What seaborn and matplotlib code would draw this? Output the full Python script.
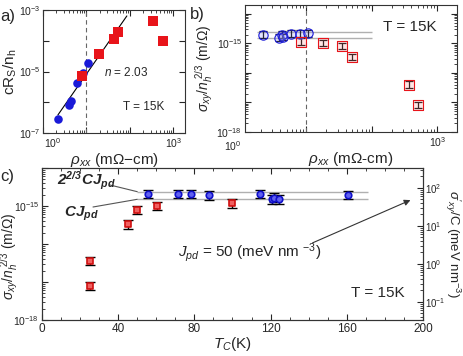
import numpy as np
import pandas as pd
import matplotlib
matplotlib.use("Agg")
import matplotlib.pyplot as plt
import matplotlib.ticker as mticker
import seaborn as sns

sns.set_style("ticks")
plt.rcParams['font.family'] = ['Liberation Sans', 'DejaVu Sans']
plt.rcParams['mathtext.fontset'] = 'custom'
plt.rcParams['mathtext.rm'] = 'Liberation Sans'
plt.rcParams['mathtext.it'] = 'Liberation Sans:italic'
plt.rcParams['mathtext.bf'] = 'Liberation Sans:bold'
plt.rcParams['xtick.direction'] = 'in'
plt.rcParams['ytick.direction'] = 'in'

# ---------------- data ----------------
# panel a
a_blue_rho = [2.24, 3.98, 4.37, 6.17, 8.51, 10.96]
a_blue_crs = [2.9e-7, 8.1e-7, 1.12e-6, 4.2e-6, 8.7e-6, 1.95e-5]
a_red_rho = [8.1, 19.5, 43.7, 53.7, 347, 562]
a_red_crs = [7.1e-6, 3.7e-5, 1.12e-4, 1.9e-4, 4.3e-4, 1.0e-4]
fit_n = 2.03
fit_log_intercept = -7.11
fit_rho_range = [2.2, 85]

# panel b
b_blue_rho = [2.2, 3.86, 4.17, 4.44, 5.9, 7.9, 10.7]
b_blue_sig = [2.0e-15, 1.55e-15, 2.0e-15, 1.62e-15, 2.14e-15, 2.14e-15, 2.19e-15]
b_red_rho = [8.3, 18.2, 35.1, 49, 372, 500]
b_red_sig = [1.15e-15, 1.02e-15, 8.1e-16, 3.5e-16, 4.0e-17, 8.1e-18]
b_err_frac = 0.3

# panel c
c_red_tc = [25, 25, 45, 50, 60.5, 99.5]
c_red_sig = [3.6e-17, 7.8e-18, 3.3e-16, 7.8e-16, 1.0e-15, 1.17e-15]
c_blue_tc = [55.5, 71.5, 78, 87.5, 114.5, 120.5, 121.8, 124.5, 160.5]
c_blue_sig = [2.05e-15, 2.05e-15, 2.05e-15, 1.9e-15, 2.05e-15, 1.5e-15, 1.66e-15, 1.5e-15, 1.95e-15]
c_err_frac = 0.3

J_pd = 50.0                      # meV nm^-3
CJ_line = 1.5e-15                # sigma/n^(2/3) corresponding to C*J_pd
conv = J_pd / CJ_line            # left units -> sigma'/C
lines_vals = [CJ_line, 2 ** (2 / 3) * CJ_line]

RED = '#e8141a'
BLUE = '#1a1ad8'
GRAY = '#b0b0b0'

fig = plt.figure(figsize=(4.63, 3.56), dpi=100)
W, H = 463.0, 356.0


def axrect(l, t, r, b):
    return [l / W, 1 - b / H, (r - l) / W, (b - t) / H]


def decade_fmt(keep):
    return mticker.FuncFormatter(
        lambda v, p: r'$10^{%d}$' % round(np.log10(v)) if round(np.log10(v)) in keep else '')


def style_log(axis, keep, minor=True):
    axis.set_major_locator(mticker.LogLocator(base=10, numticks=10))
    axis.set_major_formatter(decade_fmt(keep))
    if minor:
        axis.set_minor_locator(mticker.LogLocator(base=10, subs=np.arange(2, 10), numticks=10))
    else:
        axis.set_minor_locator(mticker.NullLocator())
    axis.set_minor_formatter(mticker.NullFormatter())


# ---------------- panel a ----------------
axa = fig.add_axes(axrect(43, 10, 185, 133))
dfa_b = pd.DataFrame({'rho': a_blue_rho, 'v': a_blue_crs})
dfa_r = pd.DataFrame({'rho': a_red_rho, 'v': a_red_crs})
axa.set_xscale('log'); axa.set_yscale('log')
sns.scatterplot(data=dfa_b, x='rho', y='v', ax=axa, color=BLUE, marker='o', s=38,
                edgecolor=BLUE, linewidth=0, zorder=3)
sns.scatterplot(data=dfa_r, x='rho', y='v', ax=axa, color=RED, marker='s', s=48,
                edgecolor=RED, linewidth=0, zorder=3)
xf = np.logspace(np.log10(fit_rho_range[0]), np.log10(fit_rho_range[1]), 50)
axa.plot(xf, 10 ** (fit_log_intercept + fit_n * np.log10(xf)), color='black', lw=0.8, zorder=2)
axa.axvline(10, color='#666666', lw=0.8, ls=(0, (4, 3)), zorder=1)
axa.set_xlim(1, 1850)
axa.set_ylim(1e-7, 1e-3)
style_log(axa.xaxis, (3,))
style_log(axa.yaxis, (-3, -5, -7), minor=False)
axa.tick_params(which='both', top=True, right=True, labelsize=7.5, pad=2)
axa.tick_params(which='major', length=4)
axa.tick_params(which='minor', length=2)
axa.set_xlabel(r'$\rho_{xx}$ (mΩ−cm)', fontsize=11, labelpad=1)
axa.set_ylabel(r'$\mathdefault{cR_S/n_h}$', fontsize=11, labelpad=0)
axa.text(0.43, 0.46, r'$n$ = 2.03', transform=axa.transAxes, fontsize=8.5)
axa.text(0.56, 0.19, 'T = 15K', transform=axa.transAxes, fontsize=8.5)
fig.text(44 / W, 1 - 143 / H, r'$10^{0}$', fontsize=7.5, ha='left', va='center')

# ---------------- panel b ----------------
axb = fig.add_axes(axrect(245, 5, 457, 132))
axb.set_xscale('log'); axb.set_yscale('log')
axb.hlines(lines_vals, 1.75, 100, color=GRAY, lw=1, zorder=1)
axb.axvline(10, color='#666666', lw=0.8, ls=(0, (4, 3)), zorder=1)
bb = np.array(b_blue_sig); br = np.array(b_red_sig)
axb.errorbar(b_blue_rho, bb, yerr=[bb * b_err_frac * 0.75, bb * b_err_frac], fmt='none',
             ecolor='black', elinewidth=0.9, capsize=3, capthick=0.9, zorder=2)
axb.errorbar(b_red_rho, br, yerr=[br * b_err_frac * 0.75, br * b_err_frac], fmt='none',
             ecolor='black', elinewidth=0.9, capsize=3, capthick=0.9, zorder=2)
dfb_b = pd.DataFrame({'rho': b_blue_rho, 'v': b_blue_sig})
dfb_r = pd.DataFrame({'rho': b_red_rho, 'v': b_red_sig})
sns.scatterplot(data=dfb_b, x='rho', y='v', ax=axb, marker='o', s=45,
                facecolor=(0.6, 0.6, 1.0, 0.25), edgecolor=BLUE, linewidth=0.8, zorder=3)
sns.scatterplot(data=dfb_r, x='rho', y='v', ax=axb, marker='s', s=45,
                facecolor=(1.0, 0.6, 0.6, 0.25), edgecolor=RED, linewidth=0.8, zorder=3)
axb.set_xlim(1.15, 2000)
axb.set_ylim(1e-18, 2e-14)
style_log(axb.xaxis, (3,))
style_log(axb.yaxis, (-15, -18))
axb.tick_params(which='both', top=True, right=True, labelsize=7.5, pad=2)
axb.tick_params(which='major', length=4)
axb.tick_params(which='minor', length=2)
axb.set_xlabel(r'$\rho_{xx}$ (mΩ-cm)', fontsize=11, labelpad=1)
axb.set_ylabel(r'$\sigma_{xy}/n_h^{\ 2/3}$ (m/Ω)', fontsize=10, labelpad=0)
axb.text(0.65, 0.83, 'T = 15K', transform=axb.transAxes, fontsize=11, va='center')
fig.text(233 / W, 1 - 146 / H, r'$10^{0}$', fontsize=7.5, ha='center', va='center')

# ---------------- panel c ----------------
axc = fig.add_axes(axrect(42, 168, 423, 320))
axc.set_yscale('log')
axc.hlines(lines_vals, 50, 171, color=GRAY, lw=1, zorder=1)
cb = np.array(c_blue_sig); cr = np.array(c_red_sig)
axc.errorbar(c_red_tc, cr, yerr=[cr * c_err_frac * 0.75, cr * c_err_frac], fmt='none',
             ecolor='black', elinewidth=1.0, capsize=3.5, capthick=1.0, zorder=2)
axc.errorbar(c_blue_tc, cb, yerr=[cb * c_err_frac * 0.75, cb * c_err_frac], fmt='none',
             ecolor='black', elinewidth=1.0, capsize=3.5, capthick=1.0, zorder=2)
dfc_r = pd.DataFrame({'tc': c_red_tc, 'v': c_red_sig})
dfc_b = pd.DataFrame({'tc': c_blue_tc, 'v': c_blue_sig})
sns.scatterplot(data=dfc_r, x='tc', y='v', ax=axc, marker='s', s=22,
                facecolor='#f06060', edgecolor='#d01010', linewidth=1.2, zorder=3)
sns.scatterplot(data=dfc_b, x='tc', y='v', ax=axc, marker='o', s=22,
                facecolor='#6060f0', edgecolor='#1010c8', linewidth=1.2, zorder=3)
axc.set_xlim(0, 200)
axc.set_ylim(1e-18, 1e-14)
axc.xaxis.set_major_locator(mticker.MultipleLocator(40))
axc.xaxis.set_minor_locator(mticker.MultipleLocator(10))
style_log(axc.yaxis, (-15, -18))
axc.tick_params(which='both', top=True, labelsize=7.5, pad=2)
axc.tick_params(axis='x', labelsize=8.5)
axc.tick_params(which='major', length=4)
axc.tick_params(which='minor', length=2)
axc.set_xlabel(r'$T_C$(K)', fontsize=11, labelpad=0)
axc.set_ylabel(r'$\sigma_{xy}/n_h^{\ 2/3}$ (m/Ω)', fontsize=10)
axc.yaxis.set_label_coords(-0.055, 0.42)

axr = axc.twinx()
axr.set_yscale('log')
axr.set_ylim(1e-18 * conv, 1e-14 * conv)
style_log(axr.yaxis, (-1, 0, 1, 2))
axr.tick_params(which='both', labelsize=7, pad=1.5, direction='in')
axr.tick_params(which='major', length=4)
axr.tick_params(which='minor', length=2)
axr.set_ylabel(r"$\sigma'_{xy}$/C (meV nm$^{-3}$)", fontsize=9.5, rotation=270)
axr.yaxis.set_label_coords(1.104, 0.5)

for ax in (axa, axb, axc, axr):
    for s in ax.spines.values():
        s.set_linewidth(0.8)
        s.set_color('#333333')

# annotations panel c
axc.annotate('', xy=(50, lines_vals[1]), xycoords='data',
             xytext=(110 / W, 1 - 185 / H), textcoords='figure fraction',
             arrowprops=dict(arrowstyle='-', color='#555555', lw=0.8, shrinkA=0, shrinkB=0))
axc.annotate('', xy=(50, lines_vals[0]), xycoords='data',
             xytext=(93 / W, 1 - 207 / H), textcoords='figure fraction',
             arrowprops=dict(arrowstyle='-', color='#555555', lw=0.8, shrinkA=0, shrinkB=0))
fig.text(57 / W, 1 - 181 / H, r'$\mathdefault{2^{2/3}CJ_{pd}}$', fontsize=11,
         fontweight='bold', style='italic', ha='left', va='center')
fig.text(64 / W, 1 - 214 / H, r'$\mathdefault{CJ_{pd}}$', fontsize=11,
         fontweight='bold', style='italic', ha='left', va='center')
fig.text(178 / W, 1 - 253 / H, r'$J_{pd}$ = 50 (meV nm $^{-3}$)', fontsize=11,
         ha='left', va='center')
fig.add_artist(matplotlib.patches.FancyArrowPatch(
    (310 / W, 1 - 244 / H), (413 / W, 1 - 199 / H), transform=fig.transFigure,
    arrowstyle='-|>', mutation_scale=9, color='#333333', lw=0.8))
axc.text(0.81, 0.15, 'T = 15K', transform=axc.transAxes, fontsize=11)

# panel letters
fig.text(0 / W, 1 - 17 / H, 'a)', fontsize=12, va='center', ha='left')
fig.text(190 / W, 1 - 15 / H, 'b)', fontsize=12, va='center', ha='left')
fig.text(0 / W, 1 - 177 / H, 'c)', fontsize=12, va='center', ha='left')

fig.savefig('out.png', dpi=100)
